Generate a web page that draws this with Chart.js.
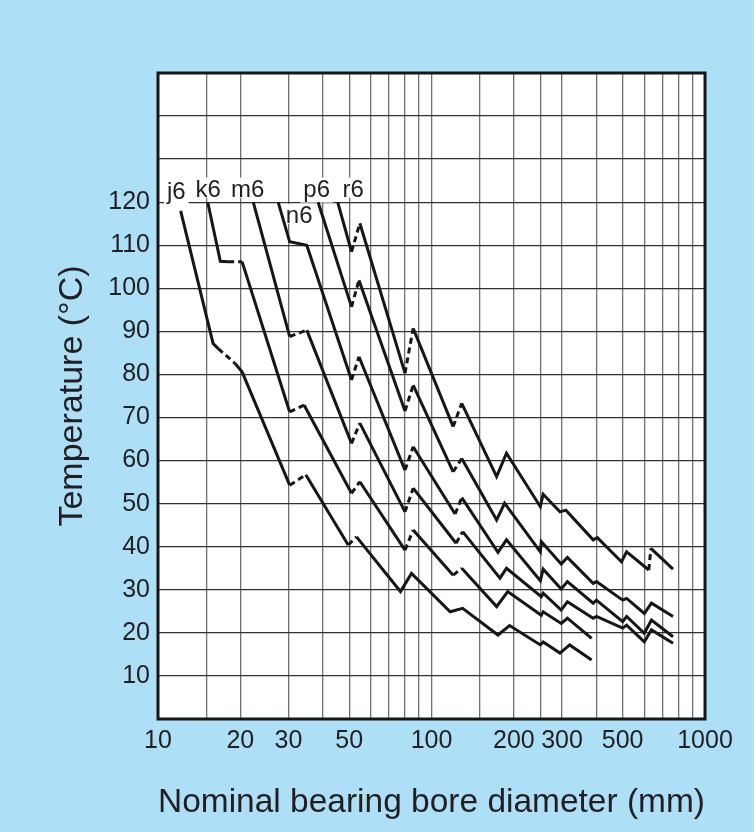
<!DOCTYPE html>
<html>
<head>
<meta charset="utf-8">
<script src="https://cdn.jsdelivr.net/npm/chart.js@4.4.1/dist/chart.umd.min.js"></script>
<style>
html,body{margin:0;padding:0;background:#ade0f7;}
#wrap{width:754px;height:832px;}
</style>
</head>
<body>
<div id="wrap"><canvas id="c" width="754" height="832"></canvas></div>
<script>
// ---- data ----
const seriesNames = ['j6', 'k6', 'm6', 'n6', 'p6', 'r6'];

const j6X = [12.1, 15.9, 16.6, 19.1, 20.3, 30.3, 34.7, 49.6, 53.2, 77, 84.5, 117, 130, 175, 193, 250, 256, 295, 320, 385];
const j6Y = [118, 87.2, 86.0, 82.6, 80.6, 54.3, 56.7, 40.4, 42.3, 29.6, 33.8, 24.9, 25.7, 19.5, 21.7, 17.2, 17.9, 15.3, 17.2, 13.7];

const k6X = [15.2, 16.9, 18.05, 20.3, 30.3, 34.2, 51, 54.7, 80, 85.7, 120, 129, 173, 190, 252, 256, 298, 314, 385];
const k6Y = [120, 106.3, 106.2, 106.2, 71.3, 72.9, 52.4, 55.1, 39.2, 43.9, 33.4, 35.0, 26.1, 29.6, 24.1, 24.9, 22.2, 23.4, 18.7];

const m6X = [22.3, 30.3, 35, 51, 54.7, 80, 85.7, 123, 130, 178, 188, 252, 256, 298, 314, 390, 401, 500, 517, 600, 637, 764];
const m6Y = [120, 88.8, 90.3, 64.0, 68.7, 48.1, 53.6, 40.8, 43.5, 32.7, 35.0, 28.4, 29.2, 25.3, 27.2, 23.4, 23.8, 21.1, 21.8, 17.9, 20.7, 17.6];

const n6X = [27.5, 30.3, 35, 51, 54.3, 80, 85.7, 122, 129, 175, 188, 250, 256, 298, 314, 390, 401, 500, 517, 600, 637, 764];
const n6Y = [120, 110.8, 110, 78.7, 84.1, 57.8, 63.2, 47.6, 51.4, 38.7, 41.6, 32.1, 34.8, 30.2, 31.9, 26.9, 27.6, 22.6, 23.8, 19.9, 23.0, 19.1];

const p6X = [38.5, 51, 54.3, 80, 85.7, 120, 129, 173, 185, 250, 252, 298, 314, 390, 401, 500, 517, 600, 637, 764];
const p6Y = [120, 95.7, 101.9, 71.5, 77.5, 57.4, 60.5, 46.2, 50.1, 38.8, 41.2, 36.0, 37.5, 31.5, 31.9, 27.6, 28.0, 24.5, 26.9, 23.8];

const r6X = [45.4, 51, 54.7, 80, 85.7, 120, 129, 173, 188, 250, 256, 295, 310, 390, 404, 495, 517, 623, 634, 764];
const r6Y = [120, 108.5, 115.1, 80.3, 90.7, 67.9, 73.3, 56.3, 61.7, 49.3, 52.2, 48.1, 48.5, 41.6, 42.1, 36.5, 38.8, 34.6, 39.6, 34.8];

// segments (by start index) drawn dashed
const j6Dash = [2, 5, 7];
const k6Dash = [2, 4, 6, 8, 10];
const m6Dash = [1, 3, 5, 7];
const n6Dash = [3, 5, 7];
const p6Dash = [1, 3, 5];
const r6Dash = [1, 3, 5, 17];

// curve label anchors (data coords: x, baseline y)
const labelX = [11.67, 15.27, 21.27, 32.81, 38.02, 51.73];
const labelY = [120.7, 121.3, 121.3, 115.2, 121.3, 121.3];

// axes
const xGridValues = [10, 15, 20, 30, 40, 50, 60, 70, 80, 90, 100, 150, 200, 250, 300, 400, 500, 600, 700, 800, 900, 1000];
const xTickLabels = [10, 20, 30, 50, 100, 200, 300, 500, 1000];
const yTickLabels = [10, 20, 30, 40, 50, 60, 70, 80, 90, 100, 110, 120];

const xTitle = 'Nominal bearing bore diameter (mm)';
const yTitle = 'Temperature (°C)';

// ---- chart ----
const FONT = "'Liberation Sans', Arial, Helvetica, sans-serif";
Chart.defaults.font.family = FONT;
Chart.defaults.color = '#231f20';

const seriesX = [j6X, k6X, m6X, n6X, p6X, r6X];
const seriesY = [j6Y, k6Y, m6Y, n6Y, p6Y, r6Y];
const seriesDash = [j6Dash, k6Dash, m6Dash, n6Dash, p6Dash, r6Dash];

const datasets = seriesNames.map((name, s) => ({
  label: name,
  data: seriesX[s].map((v, i) => ({ x: v, y: seriesY[s][i] })),
  borderColor: '#161616',
  borderWidth: 3,
  pointRadius: 0,
  tension: 0,
  fill: false,
  borderJoinStyle: 'miter',
  borderCapStyle: 'butt',
  segment: {
    borderDash: ctx => seriesDash[s].includes(ctx.p0DataIndex) ? [6, 4] : undefined
  }
}));

const decor = {
  id: 'decor',
  beforeDraw(chart) {
    const { ctx, chartArea: a } = chart;
    ctx.save();
    ctx.fillStyle = '#ade0f7';
    ctx.fillRect(0, 0, chart.width, chart.height);
    ctx.fillStyle = '#ffffff';
    ctx.fillRect(a.left, a.top, a.right - a.left, a.bottom - a.top);
    ctx.restore();
  },
  beforeDatasetsDraw(chart) {
    const { ctx, scales: { x, y } } = chart;
    ctx.save();
    ctx.font = '24px ' + FONT;
    ctx.textAlign = 'center';
    ctx.textBaseline = 'alphabetic';
    seriesNames.forEach((name, i) => {
      const px = x.getPixelForValue(labelX[i]);
      const py = y.getPixelForValue(labelY[i]);
      const m = ctx.measureText(name);
      const w = m.width;
      const asc = m.actualBoundingBoxAscent;
      const desc = m.actualBoundingBoxDescent;
      ctx.fillStyle = '#ffffff';
      ctx.fillRect(px - w / 2 - 3, py - asc - 2, w + 6, asc + desc + 3);
      ctx.fillStyle = '#231f20';
      ctx.fillText(name, px, py);
    });
    ctx.restore();
  },
  afterDraw(chart) {
    const { ctx, chartArea: a } = chart;
    ctx.save();
    ctx.strokeStyle = '#161616';
    ctx.lineWidth = 3;
    ctx.strokeRect(a.left, a.top, a.right - a.left, a.bottom - a.top);
    ctx.restore();
  }
};

new Chart(document.getElementById('c'), {
  type: 'line',
  data: { datasets },
  options: {
    responsive: false,
    animation: false,
    devicePixelRatio: 1,
    layout: { padding: { top: 73, right: 49, left: 0, bottom: 0 } },
    plugins: {
      legend: { display: false },
      tooltip: { enabled: false }
    },
    scales: {
      x: {
        type: 'logarithmic',
        min: 10,
        max: 1000,
        afterBuildTicks: axis => { axis.ticks = xGridValues.map(v => ({ value: v })); },
        afterFit: axis => { axis.height = 113; },
        ticks: {
          autoSkip: false,
          maxRotation: 0,
          padding: 7,
          font: { size: 25 },
          color: '#231f20',
          callback: v => xTickLabels.includes(v) ? String(v) : ''
        },
        grid: { color: '#707070', lineWidth: 1.3, drawTicks: false },
        border: { display: false },
        title: {
          display: true,
          text: xTitle,
          font: { size: 33.5 },
          color: '#231f20',
          padding: { top: 0, bottom: 9 }
        }
      },
      y: {
        type: 'linear',
        min: 0,
        max: 150,
        afterFit: axis => { axis.width = 158; },
        ticks: {
          stepSize: 10,
          padding: 8,
          font: { size: 25 },
          color: '#231f20',
          callback: v => yTickLabels.includes(v) ? String(v) : ''
        },
        grid: { color: '#303030', lineWidth: 1.3, drawTicks: false },
        border: { display: false },
        title: {
          display: true,
          text: yTitle,
          font: { size: 34 },
          color: '#231f20',
          padding: { top: 52, bottom: 0 }
        }
      }
    }
  },
  plugins: [decor]
});
</script>
</body>
</html>
